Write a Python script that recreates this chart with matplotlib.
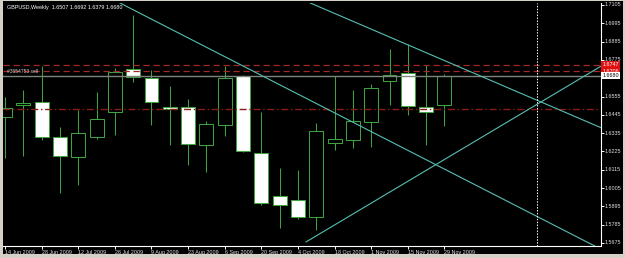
import matplotlib
matplotlib.use("Agg")
import matplotlib.pyplot as plt
from matplotlib.patches import Rectangle
import matplotlib.transforms as mtransforms

# ---------------- data ----------------
title_text = "GBPUSD,Weekly  1.6507 1.6692 1.6379 1.6680"
date_labels = ["14 Jun 2009", "28 Jun 2009", "12 Jul 2009", "26 Jul 2009", "9 Aug 2009",
               "23 Aug 2009", "6 Sep 2009", "20 Sep 2009", "4 Oct 2009", "18 Oct 2009",
               "1 Nov 2009", "15 Nov 2009", "29 Nov 2009"]
opens = [1.6430, 1.6502, 1.6520, 1.6313, 1.6193, 1.6313, 1.6460, 1.6719, 1.6668, 1.6494,
         1.6492, 1.6264, 1.6384, 1.6678, 1.6216, 1.5957, 1.5933, 1.5831, 1.6276, 1.6294,
         1.6402, 1.6648, 1.6696, 1.6492, 1.6507]
highs = [1.6552, 1.6594, 1.6738, 1.6370, 1.6474, 1.6580, 1.6725, 1.7045, 1.6714, 1.6618,
         1.6540, 1.6408, 1.6738, 1.6684, 1.6462, 1.6125, 1.6113, 1.6396, 1.6678, 1.6594,
         1.6630, 1.6841, 1.6871, 1.6744, 1.6692]
lows = [1.6185, 1.6197, 1.6294, 1.5975, 1.6023, 1.6300, 1.6324, 1.6644, 1.6384, 1.6264,
        1.6143, 1.6101, 1.6318, 1.6222, 1.5903, 1.5765, 1.5819, 1.5753, 1.6234, 1.6246,
        1.6252, 1.6504, 1.6444, 1.6264, 1.6379]
closes = [1.6488, 1.6518, 1.6313, 1.6198, 1.6334, 1.6420, 1.6701, 1.6674, 1.6520, 1.6480,
          1.6270, 1.6390, 1.6666, 1.6228, 1.5915, 1.5903, 1.5831, 1.6348, 1.6300, 1.6408,
          1.6606, 1.6684, 1.6498, 1.6462, 1.6680]
price_ticks = [1.7105, 1.6995, 1.6885, 1.6775, 1.6555, 1.6445, 1.6335, 1.6225,
               1.6115, 1.6005, 1.5895, 1.5785, 1.5675]
stop_loss = 1.6747
order_price = 1.6706
order_label = "#3654753 sell"
bid_price = 1.6680
take_profit = 1.6482
trend_a = [(8, 1.7020), (30, 1.5781)]
trend_c = [(20, 1.6960), (30, 1.6488)]
trend_d = [(16.44, 1.5681), (30, 1.6570)]
future_line_index = 29.05

# ---------------- layout ----------------
W, H = 625, 258
fig = plt.figure(figsize=(W / 100, H / 100), dpi=100)
fig.patch.set_facecolor("#d4d0c8")


def fx(px):
    return px / W


def fy(py):
    return 1 - py / H


fig.add_artist(Rectangle((fx(3), fy(254)), fx(620), 253 / H, transform=fig.transFigure,
                         facecolor="black", edgecolor="none", zorder=0))

ax = fig.add_axes([fx(3), fy(246), fx(597.5), 243 / H])
ax.set_zorder(1)
ax.set_facecolor("black")

FONT = "Liberation Sans"
FS = 3.9
GREEN = "#3ea23e"
CYAN = "#55c0b2"
LW = 0.75

# candles
bw = 0.76
for i, (o, h, l, c) in enumerate(zip(opens, highs, lows, closes)):
    ax.vlines(i, l, h, color=GREEN, lw=LW, zorder=2)
    bull = c >= o
    ax.add_patch(Rectangle((i - bw / 2, min(o, c)), bw, max(abs(c - o), 0.00005),
                           facecolor="black" if bull else "white",
                           edgecolor=GREEN, lw=LW, zorder=3))

# horizontal order lines
ax.axhline(take_profit, color="#8a1a1a", lw=1.0, ls=(0, (5, 2, 1, 2)), zorder=4)
ax.axhline(bid_price, color="#7c857c", lw=1.0, zorder=4)
ax.axhline(stop_loss, color="#a02828", lw=0.9, ls=(0, (5, 3)), zorder=4)
ax.axhline(order_price, color="#a02828", lw=0.9, ls=(0, (5, 3)), zorder=4)
ax.text(0.007, order_price, order_label, transform=mtransforms.blended_transform_factory(ax.transAxes, ax.transData),
        color="#c8c8c8", fontsize=3.6, family=FONT, va="center", ha="left", zorder=6)

# trend lines
ax.axline(trend_a[0], trend_a[1], color=CYAN, lw=0.8, zorder=5)
ax.axline(trend_c[0], trend_c[1], color=CYAN, lw=0.8, zorder=5)
(dx0, dy0), (dx1, dy1) = trend_d
slope = (dy1 - dy0) / (dx1 - dx0)
ax.plot([dx0, 40], [dy0, dy0 + slope * (40 - dx0)], color=CYAN, lw=0.8, zorder=5)

# future vertical dotted line
ax.axvline(future_line_index, color="white", lw=0.7, ls=(0, (1.5, 1.5)), zorder=5)

# axes
step = 18.31
ax.set_xlim((3 - 5) / step, (600.5 - 5) / step)
ax.set_ylim(1.7105 - (246 - 5) / 1664, 1.7105 + (5 - 3) / 1664)

ax.yaxis.tick_right()
ax.set_yticks(price_ticks)
ax.set_yticklabels(["%.4f" % p for p in price_ticks])
ax.set_xticks(list(range(0, 25, 2)))
ax.set_xticklabels(date_labels)
ax.tick_params(axis="y", colors="white", labelcolor="#e0e0e0", length=2, width=0.7,
               labelsize=FS, pad=1.2)
ax.tick_params(axis="x", colors="white", labelcolor="#e0e0e0", length=2, width=0.7,
               labelsize=FS, pad=0.8)
for lbl in ax.get_xticklabels():
    lbl.set_ha("left")
    lbl.set_family(FONT)
for lbl in ax.get_yticklabels():
    lbl.set_family(FONT)
    lbl.set_va("center")

for s in ["left", "top"]:
    ax.spines[s].set_visible(False)
for s in ["right", "bottom"]:
    ax.spines[s].set_color("white")
    ax.spines[s].set_linewidth(0.8)

# price labels on right axis
bt = mtransforms.blended_transform_factory(ax.transAxes, ax.transData)
for p, fc, tc in [(stop_loss, "#e01010", "white"), (order_price, "#e01010", "white"),
                  (bid_price, "white", "black")]:
    ax.text(1.003, p, "%.4f" % p, transform=bt, fontsize=FS, family=FONT, color=tc,
            va="center", ha="left", zorder=10, clip_on=False,
            bbox=dict(boxstyle="square,pad=0.15", fc=fc, ec="none"))

# title
fig.text(fx(7), fy(8), title_text, color="white", fontsize=FS, family=FONT,
         va="center", ha="left", zorder=10)

fig.savefig("out.png", dpi=100, facecolor=fig.get_facecolor())
